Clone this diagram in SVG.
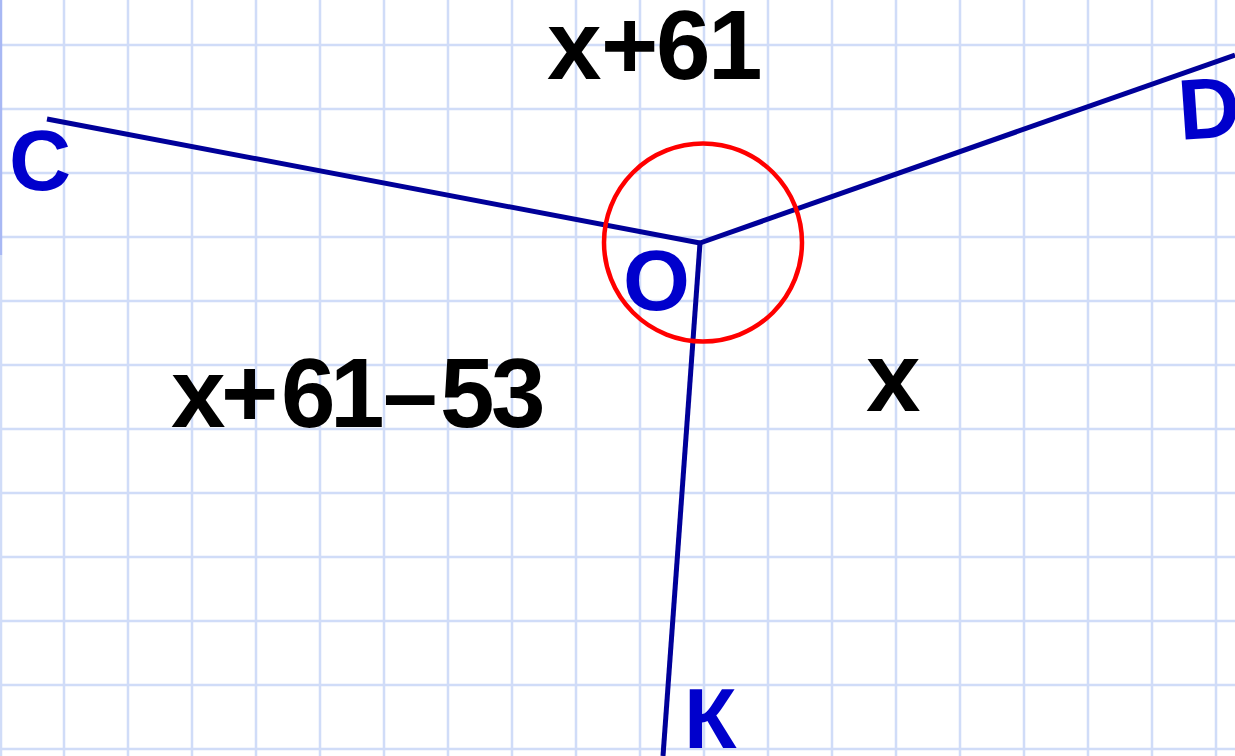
<svg xmlns="http://www.w3.org/2000/svg" width="1235" height="756" viewBox="0 0 1235 756">
<style>
.grid line{stroke:#d0dcf8;stroke-width:2.5}
.ray{stroke:#000099;stroke-width:5;stroke-linecap:butt;fill:none}
.pt{font-family:"Liberation Sans",Arial,sans-serif;font-weight:bold;font-size:86px;fill:#0000cc}
.expr{font-family:"Liberation Sans",Arial,sans-serif;font-weight:bold;font-size:98px;fill:#000000}
</style>
<rect width="1235" height="756" fill="#ffffff"/>
<g class="grid" id="grid">
<line x1="64" y1="0" x2="64" y2="756"/><line x1="128" y1="0" x2="128" y2="756"/><line x1="192" y1="0" x2="192" y2="756"/><line x1="256" y1="0" x2="256" y2="756"/><line x1="320" y1="0" x2="320" y2="756"/><line x1="384" y1="0" x2="384" y2="756"/><line x1="448" y1="0" x2="448" y2="756"/><line x1="512" y1="0" x2="512" y2="756"/><line x1="576" y1="0" x2="576" y2="756"/><line x1="640" y1="0" x2="640" y2="756"/><line x1="704" y1="0" x2="704" y2="756"/><line x1="768" y1="0" x2="768" y2="756"/><line x1="832" y1="0" x2="832" y2="756"/><line x1="896" y1="0" x2="896" y2="756"/><line x1="960" y1="0" x2="960" y2="756"/><line x1="1024" y1="0" x2="1024" y2="756"/><line x1="1088" y1="0" x2="1088" y2="756"/><line x1="1152" y1="0" x2="1152" y2="756"/><line x1="1216" y1="0" x2="1216" y2="756"/>
<line x1="0" y1="45" x2="1235" y2="45"/><line x1="0" y1="109" x2="1235" y2="109"/><line x1="0" y1="173" x2="1235" y2="173"/><line x1="0" y1="237" x2="1235" y2="237"/><line x1="0" y1="301" x2="1235" y2="301"/><line x1="0" y1="365" x2="1235" y2="365"/><line x1="0" y1="429" x2="1235" y2="429"/><line x1="0" y1="493" x2="1235" y2="493"/><line x1="0" y1="557" x2="1235" y2="557"/><line x1="0" y1="621" x2="1235" y2="621"/><line x1="0" y1="685" x2="1235" y2="685"/><line x1="0" y1="749" x2="1235" y2="749"/>
<line x1="1" y1="255" x2="1" y2="756"/>
<line x1="1" y1="0" x2="1" y2="255" style="stroke:#a8b8f4"/>
</g>
<g id="connectors">
<line class="ray" x1="47" y1="119" x2="700" y2="243"/>
<line class="ray" x1="700" y1="243" x2="1235" y2="55"/>
<line class="ray" x1="700" y1="243" x2="663" y2="756"/>
</g>
<g id="angle-mark"><circle cx="703" cy="242.5" r="99" fill="none" stroke="#ff0000" stroke-width="4.5"/></g>
<g id="node-C"><text class="pt" x="9" y="190">C</text></g>
<g id="node-O"><text class="pt" x="623" y="310">O</text></g>
<g id="node-D"><text class="pt" x="1180" y="140" transform="rotate(-4 1180 140)">D</text></g>
<g id="node-K"><text class="pt" x="684" y="748">К</text></g>
<g id="label-top"><text class="expr" x="547 601 656 708" y="79">x+61</text></g>
<g id="label-left"><text class="expr" x="171 221 281 330 383 440 491" y="427">x+61–53</text></g>
<g id="label-right"><text class="expr" x="866" y="411">x</text></g>
</svg>
